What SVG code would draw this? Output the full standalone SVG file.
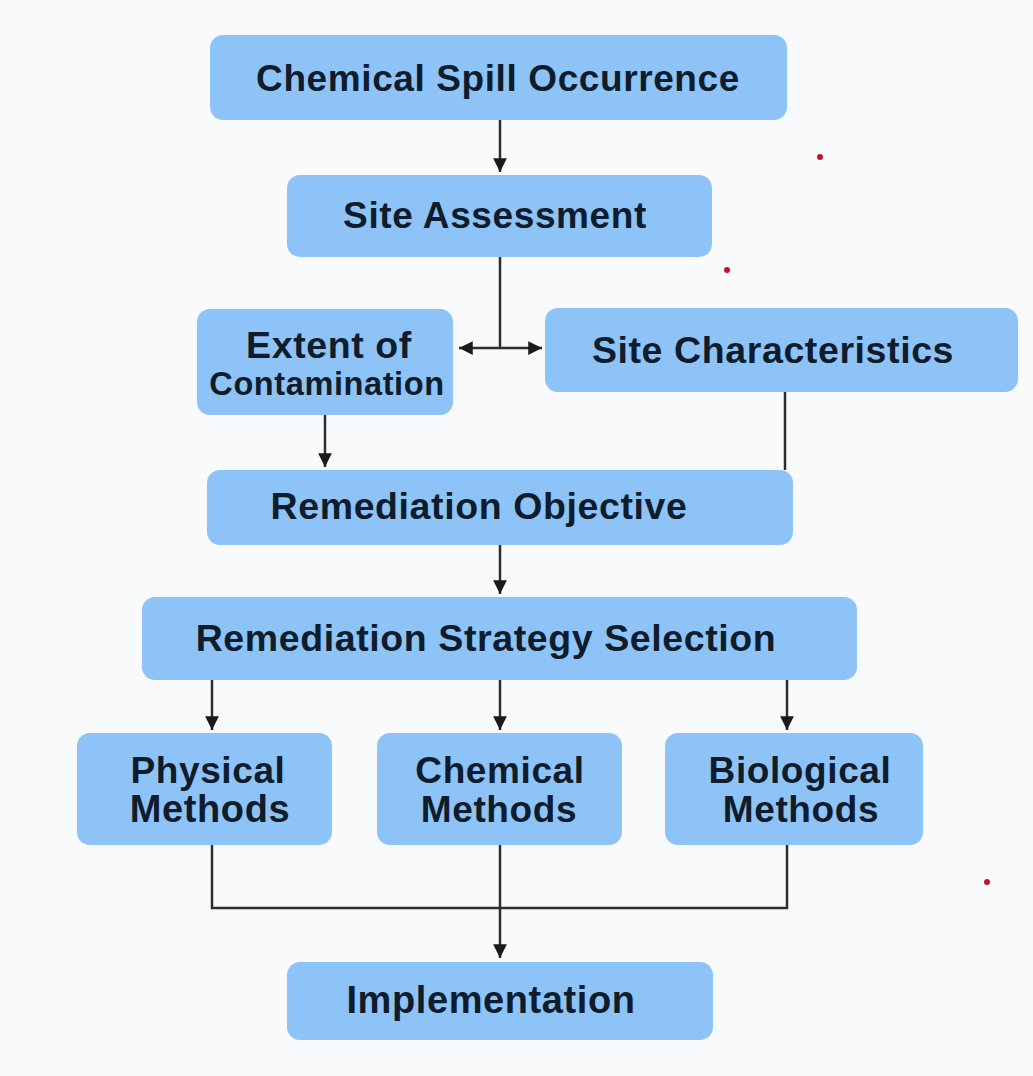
<svg xmlns="http://www.w3.org/2000/svg" width="1033" height="1076" viewBox="0 0 1033 1076">
<style>
.box{fill:#8dc3f6;}
.t{font-family:"Liberation Sans",Arial,sans-serif;font-weight:bold;fill:#0f1c2b;text-anchor:middle;letter-spacing:0.6px;}
.c{fill:none;stroke:#2e2e2e;stroke-width:2.5;}
.dot{fill:#c8102e;}
</style>
<defs>
<marker id="ah" viewBox="0 0 10 10" refX="10" refY="5" markerWidth="5.5" markerHeight="5.5" markerUnits="strokeWidth" orient="auto-start-reverse">
<path d="M0,0 L10,5 L0,10 z" fill="#1a1a1a"/>
</marker>
</defs>
<rect x="0" y="0" width="1033" height="1076" fill="#f9fafb"/>
<g id="connectors">
<path class="c" d="M500,120 V172" marker-end="url(#ah)"/>
<path class="c" d="M500,257 V348"/>
<path class="c" d="M500,348 H459" marker-end="url(#ah)"/>
<path class="c" d="M500,348 H542" marker-end="url(#ah)"/>
<path class="c" d="M325,415 V467" marker-end="url(#ah)"/>
<path class="c" d="M785,392 V470"/>
<path class="c" d="M500,545 V594" marker-end="url(#ah)"/>
<path class="c" d="M212,680 V730" marker-end="url(#ah)"/>
<path class="c" d="M500,680 V730" marker-end="url(#ah)"/>
<path class="c" d="M787,680 V730" marker-end="url(#ah)"/>
<path class="c" d="M212,845 V908 H787 V845"/>
<path class="c" d="M500,845 V958" marker-end="url(#ah)"/>
</g>
<g id="n1"><rect class="box" x="210" y="35" width="577" height="85" rx="13"/><text class="t" x="498" y="91" font-size="37">Chemical Spill Occurrence</text></g>
<g id="n2"><rect class="box" x="287" y="175" width="425" height="82" rx="13"/><text class="t" x="495" y="228" font-size="37">Site Assessment</text></g>
<g id="n3"><rect class="box" x="197" y="309" width="256" height="106" rx="13"/><text class="t" x="329" y="358" font-size="37.5">Extent of</text><text class="t" x="327" y="395" font-size="32.5">Contamination</text></g>
<g id="n4"><rect class="box" x="545" y="308" width="473" height="84" rx="13"/><text class="t" x="773" y="363" font-size="37.5">Site Characteristics</text></g>
<g id="n5"><rect class="box" x="207" y="470" width="586" height="75" rx="13"/><text class="t" x="479" y="519" font-size="37.5">Remediation Objective</text></g>
<g id="n6"><rect class="box" x="142" y="597" width="715" height="83" rx="13"/><text class="t" x="486" y="651" font-size="37.5">Remediation Strategy Selection</text></g>
<g id="n7"><rect class="box" x="77" y="733" width="255" height="112" rx="13"/><text class="t" x="208" y="783" font-size="37">Physical</text><text class="t" x="210" y="822" font-size="38">Methods</text></g>
<g id="n8"><rect class="box" x="377" y="733" width="245" height="112" rx="13"/><text class="t" x="500" y="783" font-size="37">Chemical</text><text class="t" x="499" y="822" font-size="37">Methods</text></g>
<g id="n9"><rect class="box" x="665" y="733" width="258" height="112" rx="13"/><text class="t" x="800" y="783" font-size="37">Biological</text><text class="t" x="801" y="822" font-size="37">Methods</text></g>
<g id="n10"><rect class="box" x="287" y="962" width="426" height="78" rx="13"/><text class="t" x="491" y="1013" font-size="38">Implementation</text></g>
<circle class="dot" cx="820" cy="157" r="3"/>
<circle class="dot" cx="727" cy="270" r="3"/>
<circle class="dot" cx="987" cy="882" r="3"/>
</svg>
